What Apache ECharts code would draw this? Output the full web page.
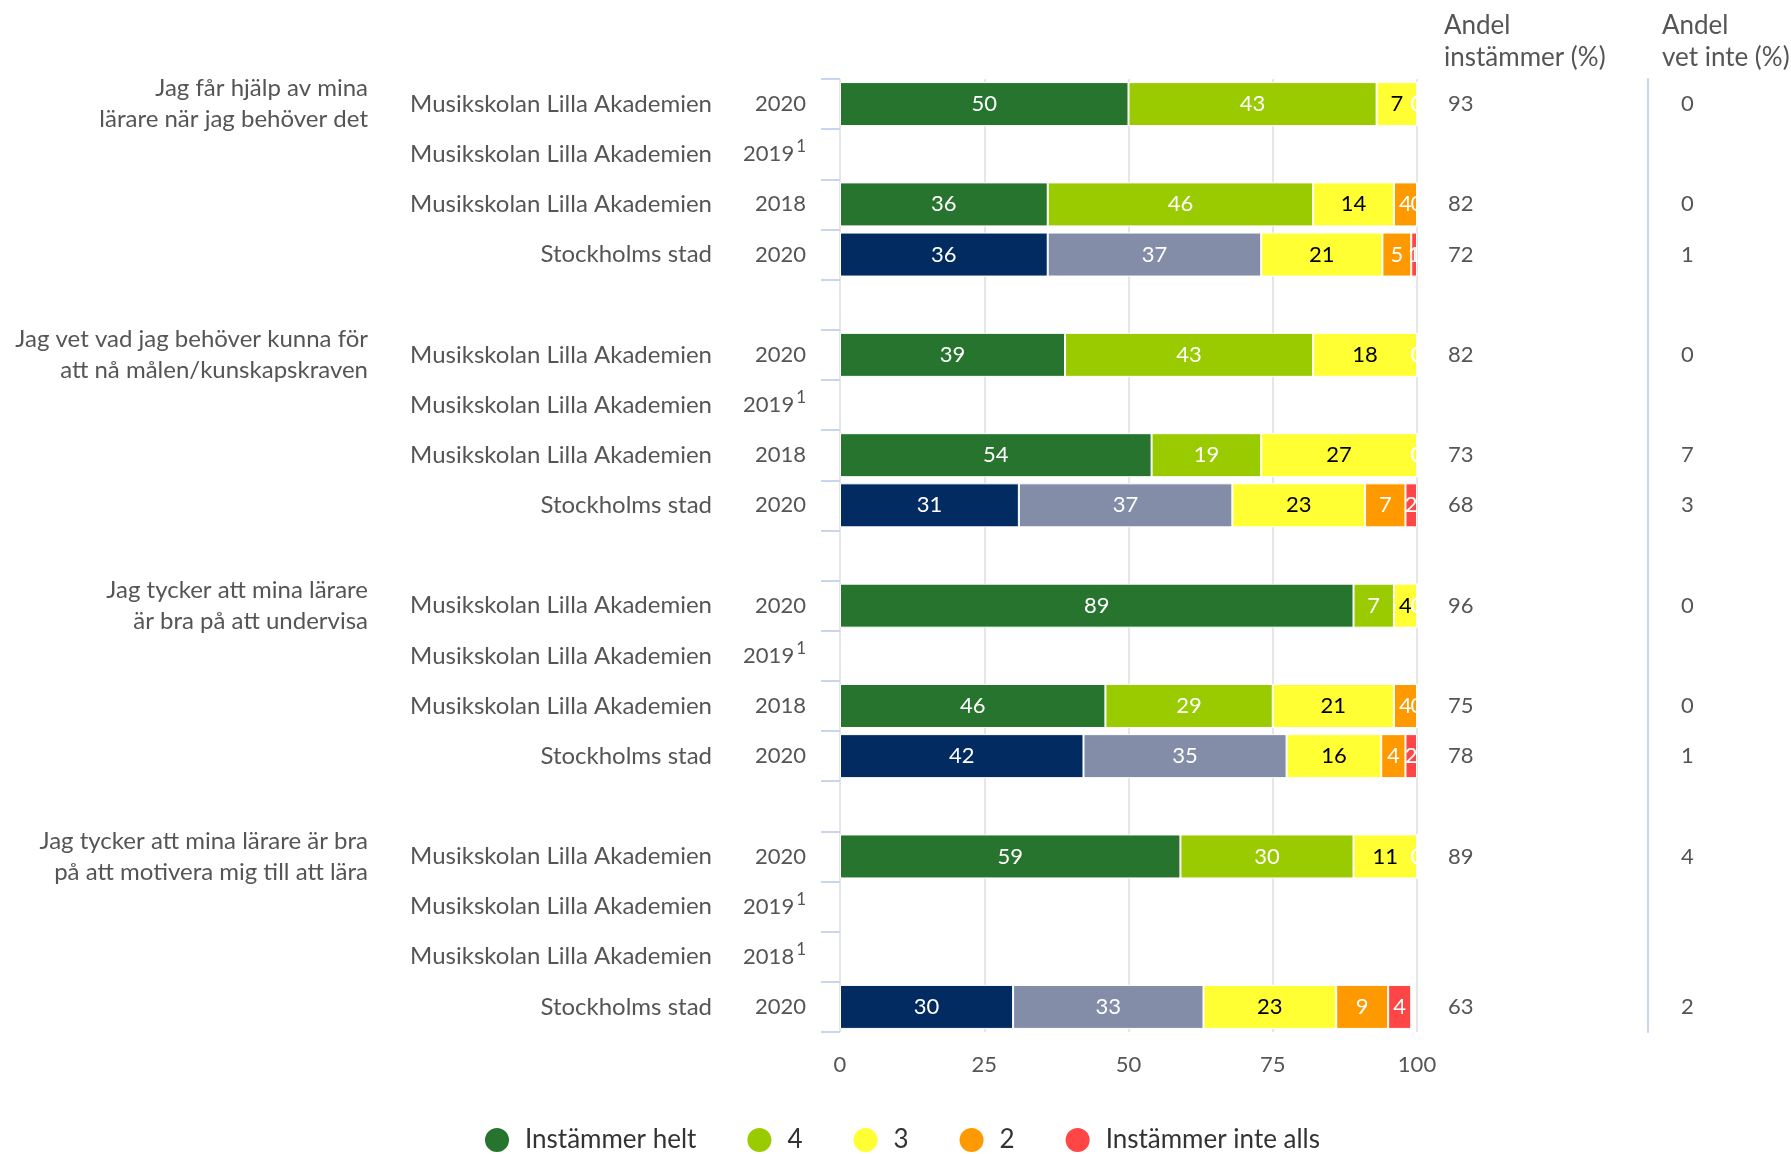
<!DOCTYPE html>
<html>
<head>
<meta charset="utf-8">
<script src="https://cdn.jsdelivr.net/npm/echarts@6/dist/echarts.min.js"></script>
<style>
  html, body { margin: 0; padding: 0; background: #fff; }
  #chart { width: 1791px; height: 1154px; }
</style>
</head>
<body>
<div id="chart"></div>
<script>
// frågor (en per grupp)
var questions = [
  'Jag får hjälp av mina\nlärare när jag behöver det',
  'Jag vet vad jag behöver kunna för\natt nå målen/kunskapskraven',
  'Jag tycker att mina lärare\när bra på att undervisa',
  'Jag tycker att mina lärare är bra\npå att motivera mig till att lära'
];

// rader, fyra per fråga
var units = [
  'Musikskolan Lilla Akademien', 'Musikskolan Lilla Akademien', 'Musikskolan Lilla Akademien', 'Stockholms stad',
  'Musikskolan Lilla Akademien', 'Musikskolan Lilla Akademien', 'Musikskolan Lilla Akademien', 'Stockholms stad',
  'Musikskolan Lilla Akademien', 'Musikskolan Lilla Akademien', 'Musikskolan Lilla Akademien', 'Stockholms stad',
  'Musikskolan Lilla Akademien', 'Musikskolan Lilla Akademien', 'Musikskolan Lilla Akademien', 'Stockholms stad'
];
var years = ['2020', '2019', '2018', '2020', '2020', '2019', '2018', '2020',
             '2020', '2019', '2018', '2020', '2020', '2019', '2018', '2020'];
var yearNotes = ['', '1', '', '', '', '1', '', '', '', '1', '', '', '', '1', '1', ''];

// andelar per svarsalternativ (etiketter avrundas)
var helt    = [50, null, 36, 36, 39, null, 54, 31, 89, null, 46, 42.2, 59, null, null, 30];
var fyra    = [43, null, 46, 37, 43, null, 19, 37,  7, null, 29, 35.2, 30, null, null, 33];
var tre     = [ 7, null, 14, 21, 18, null, 27, 23,  4, null, 21, 16.4, 11, null, null, 23];
var tva     = [ 0, null,  4,  5,  0, null,  0,  7,  0, null,  4,  4.2,  0, null, null,  9];
var inteAlls= [ 0, null,  0,  1,  0, null,  0,  2,  0, null,  0,  2.0,  0, null, null,  4];

// högerkolumner
var andelInstammer = [93, null, 82, 72, 82, null, 73, 68, 96, null, 75, 78, 89, null, null, 63];
var andelVetInte   = [ 0, null,  0,  1,  0, null,  7,  3,  0, null,  0,  1,  4, null, null,  2];

var seriesNames = ['Instämmer helt', '4', '3', '2', 'Instämmer inte alls'];
var seriesValues = [helt, fyra, tre, tva, inteAlls];
var seriesColors = ['#27742e', '#9acb00', '#ffff33', '#ff9900', '#ff4646'];
var stadColors = ['#022b62', '#838da8'];
var labelColors = ['#fff', '#fff', '#000', '#fff', '#fff'];

// bygg platser: fyra rader per fråga, tom rad emellan
var slotRow = [];
for (var q = 0; q < questions.length; q++) {
  for (var k = 0; k < 4; k++) slotRow.push(q * 4 + k);
  if (q < questions.length - 1) slotRow.push(-1);
}
var categories = slotRow.map(function (r, i) { return 's' + i; });

var fontFamily = 'Lato';
var textGray = '#555';
var tickBlue = '#c9d5ec';

function rowOf(index) { return slotRow[index]; }

var series = seriesValues.map(function (vals, s) {
  return {
    name: seriesNames[s],
    type: 'bar',
    stack: 'total',
    barWidth: 44,
    color: seriesColors[s],
    itemStyle: { borderColor: '#fff', borderWidth: 1 },
    label: {
      show: true,
      position: 'inside',
      color: labelColors[s],
      fontSize: 22,
      fontFamily: fontFamily,
      formatter: function (p) { return String(Math.round(p.value)); }
    },
    data: slotRow.map(function (r) {
      if (r < 0 || vals[r] === null) return null;
      if (s < 2 && units[r] === 'Stockholms stad') {
        return { value: vals[r], itemStyle: { color: stadColors[s] } };
      }
      return vals[r];
    })
  };
});

var chartDom = document.getElementById('chart');
var myChart = echarts.init(chartDom);

var option = {
  animation: false,
  grid: {
    left: 840,
    right: 374,
    top: 79,
    bottom: 122,
    containLabel: false,
    outerBoundsMode: 'none'
  },
  legend: {
    data: seriesNames,
    left: 478,
    top: 1121,
    icon: 'circle',
    itemWidth: 26,
    itemHeight: 26,
    itemGap: 49,
    textStyle: {
      color: '#333',
      fontSize: 26,
      fontFamily: fontFamily,
      padding: [0, 0, 0, 10]
    }
  },
  xAxis: {
    type: 'value',
    min: 0,
    max: 100,
    interval: 25,
    axisLine: { show: false },
    axisTick: { show: false },
    axisLabel: {
      color: textGray,
      fontSize: 22,
      fontFamily: fontFamily,
      margin: 22
    },
    splitLine: {
      show: true,
      lineStyle: { color: '#dedede', width: 1.5 }
    }
  },
  yAxis: [
    {
      // årtal + fotnot, med skiljestreck
      type: 'category',
      data: categories,
      inverse: true,
      axisLine: { show: false },
      axisTick: {
        show: true,
        length: 19,
        lineStyle: { color: tickBlue, width: 2 }
      },
      axisLabel: {
        interval: 0,
        margin: 34,
        color: textGray,
        fontSize: 22,
        fontFamily: fontFamily,
        formatter: function (v, i) {
          var r = rowOf(i);
          if (r < 0) return '';
          return yearNotes[r] ? '{y|' + years[r] + '}{s|' + yearNotes[r] + '}' : '{y|' + years[r] + '}';
        },
        rich: {
          y: { fontSize: 22, fontFamily: fontFamily, color: textGray, lineHeight: 32 },
          s: { fontSize: 17, fontFamily: fontFamily, color: textGray, verticalAlign: 'top', padding: [0, 0, 0, 2] }
        }
      }
    },
    {
      // skolnamn
      type: 'category',
      data: categories,
      inverse: true,
      position: 'left',
      axisLine: { show: false },
      axisTick: { show: false },
      axisLabel: {
        interval: 0,
        margin: 128,
        color: textGray,
        fontSize: 24,
        fontFamily: fontFamily,
        formatter: function (v, i) {
          var r = rowOf(i);
          return r < 0 ? '' : units[r];
        }
      }
    },
    {
      // frågetext
      type: 'category',
      data: categories,
      inverse: true,
      position: 'left',
      axisLine: { show: false },
      axisTick: { show: false },
      axisLabel: {
        interval: 0,
        margin: 472,
        color: textGray,
        fontSize: 24,
        lineHeight: 31,
        fontFamily: fontFamily,
        formatter: function (v, i) {
          var r = rowOf(i);
          return (r >= 0 && r % 4 === 0) ? questions[r / 4] : '';
        }
      }
    },
    {
      // andel instämmer
      type: 'category',
      data: categories,
      inverse: true,
      position: 'right',
      axisLine: { show: false },
      axisTick: { show: false },
      axisLabel: {
        interval: 0,
        margin: 31,
        color: textGray,
        fontSize: 22,
        fontFamily: fontFamily,
        formatter: function (v, i) {
          var r = rowOf(i);
          return (r < 0 || andelInstammer[r] === null) ? '' : String(andelInstammer[r]);
        }
      }
    },
    {
      // andel vet inte
      type: 'category',
      data: categories,
      inverse: true,
      position: 'right',
      offset: 231,
      axisLine: { show: true, lineStyle: { color: tickBlue, width: 2 } },
      axisTick: { show: false },
      axisLabel: {
        interval: 0,
        margin: 33,
        color: textGray,
        fontSize: 22,
        fontFamily: fontFamily,
        formatter: function (v, i) {
          var r = rowOf(i);
          return (r < 0 || andelVetInte[r] === null) ? '' : String(andelVetInte[r]);
        }
      }
    }
  ],
  graphic: {
    elements: [
      {
        type: 'text',
        left: 1444,
        top: 10,
        style: {
          text: 'Andel\ninstämmer (%)',
          fill: textGray,
          font: '26px Lato',
          lineHeight: 32
        }
      },
      {
        type: 'text',
        left: 1662,
        top: 10,
        style: {
          text: 'Andel\nvet inte (%)',
          fill: textGray,
          font: '26px Lato',
          lineHeight: 32
        }
      }
    ]
  },
  series: series
};

myChart.setOption(option);
window.addEventListener('resize', function () {
  myChart.resize();
});
</script>
</body>
</html>
